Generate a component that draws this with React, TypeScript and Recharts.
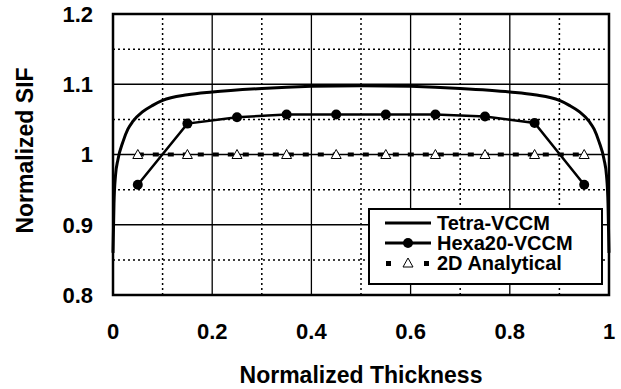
import {
  LineChart,
  Line,
  XAxis,
  YAxis,
  ReferenceLine,
  ReferenceArea,
  Legend,
} from 'recharts'

const THICKNESS_TICKS = [0, 0.2, 0.4, 0.6, 0.8, 1]
const THICKNESS_MINOR = [0.1, 0.3, 0.5, 0.7, 0.9]
const SIF_TICKS = [0.8, 0.9, 1.0, 1.1, 1.2]
const SIF_MINOR = [0.85, 0.95, 1.05, 1.15]

const tetraX = [0, 0.002, 0.005, 0.01, 0.02, 0.03, 0.04, 0.06, 0.08, 0.1, 0.15, 0.2, 0.3, 0.4, 0.5, 0.6, 0.7, 0.8, 0.85, 0.9, 0.92, 0.94, 0.96, 0.97, 0.98, 0.99, 0.995, 0.998, 1]
const tetraSif = [0.86, 0.93, 0.97, 0.993, 1.018, 1.036, 1.047, 1.061, 1.07, 1.077, 1.085, 1.089, 1.094, 1.097, 1.098, 1.097, 1.094, 1.089, 1.085, 1.077, 1.07, 1.061, 1.047, 1.036, 1.018, 0.993, 0.97, 0.93, 0.86]

const hexaX = [0.05, 0.15, 0.25, 0.35, 0.45, 0.55, 0.65, 0.75, 0.85, 0.95]
const hexaSif = [0.957, 1.044, 1.053, 1.057, 1.057, 1.057, 1.057, 1.054, 1.045, 0.957]

const analyticalX = [0.05, 0.15, 0.25, 0.35, 0.45, 0.55, 0.65, 0.75, 0.85, 0.95]
const analyticalSif = [1, 1, 1, 1, 1, 1, 1, 1, 1, 1]

const tetraData = tetraX.map((x, i) => ({ x, y: tetraSif[i] }))
const hexaData = hexaX.map((x, i) => ({ x, y: hexaSif[i] }))
const analyticalData = analyticalX.map((x, i) => ({ x, y: analyticalSif[i] }))

const FONT = '"Liberation Sans", Arial, sans-serif'

function Triangle(props: any) {
  const { cx, cy } = props
  if (cx == null || cy == null) return null
  return (
    <path
      d={`M${cx},${cy - 5} L${cx + 5},${cy + 4} L${cx - 5},${cy + 4} Z`}
      fill="#fff"
      stroke="#000"
      strokeWidth={1}
    />
  )
}

function YTitle(props: any) {
  const vb = props.viewBox
  const cy = vb.y + vb.height / 2 - 4
  return (
    <text
      x={25}
      y={cy}
      transform={`rotate(-90 25 ${cy})`}
      textAnchor="middle"
      dominantBaseline="central"
      fontFamily={FONT}
      fontWeight="bold"
      fontSize={23}
      fill="#000"
    >
      Normalized SIF
    </text>
  )
}

function XTitle(props: any) {
  const vb = props.viewBox
  return (
    <text
      x={vb.x + vb.width / 2}
      y={383}
      textAnchor="middle"
      fontFamily={FONT}
      fontWeight="bold"
      fontSize={23}
      fill="#000"
    >
      Normalized Thickness
    </text>
  )
}

function LegendBox() {
  const row = { display: 'flex', alignItems: 'center', height: 20 }
  const label = { fontFamily: FONT, fontWeight: 'bold' as const, fontSize: 20, marginLeft: 6, lineHeight: '20px' }
  return (
    <div
      style={{
        width: 216,
        height: 70,
        border: '2px solid #000',
        background: '#fff',
        boxSizing: 'content-box',
        padding: '3px 0 0 15px',
        marginLeft: -15,
      }}
    >
      <div style={row}>
        <svg width={46} height={20}>
          <line x1={0} y1={10} x2={46} y2={10} stroke="#000" strokeWidth={3} />
        </svg>
        <span style={label}>Tetra-VCCM</span>
      </div>
      <div style={row}>
        <svg width={46} height={20}>
          <line x1={0} y1={10} x2={46} y2={10} stroke="#000" strokeWidth={3} />
          <circle cx={23} cy={10} r={5} fill="#000" />
        </svg>
        <span style={label}>Hexa20-VCCM</span>
      </div>
      <div style={row}>
        <svg width={46} height={20}>
          <rect x={1} y={8} width={5} height={5} fill="#000" />
          <path d="M23,5 L28,14 L18,14 Z" fill="#fff" stroke="#000" strokeWidth={1} />
          <rect x={39} y={8} width={5} height={5} fill="#000" />
        </svg>
        <span style={label}>2D Analytical</span>
      </div>
    </div>
  )
}

export default function App() {
  return (
    <div style={{ position: 'absolute', left: 0, top: 0, background: '#fff' }}>
      <LineChart
        width={621}
        height={389}
        margin={{ top: 14, right: 12, left: 0, bottom: 0 }}
      >
        <XAxis
          type="number"
          dataKey="x"
          domain={[0, 1]}
          ticks={THICKNESS_TICKS}
          allowDuplicatedCategory={false}
          height={94}
          axisLine={false}
          tickLine={false}
          tickSize={0}
          tickMargin={28}
          tick={{ fill: '#000', fontFamily: FONT, fontWeight: 'bold', fontSize: 22 }}
          label={<XTitle />}
        />
        <YAxis
          type="number"
          domain={[0.8, 1.2]}
          ticks={SIF_TICKS}
          width={113}
          axisLine={false}
          tickLine={false}
          tickSize={0}
          tickMargin={20}
          tick={{ fill: '#000', fontFamily: FONT, fontWeight: 'bold', fontSize: 22 }}
          label={<YTitle />}
        />
        {THICKNESS_MINOR.map(v => (
          <ReferenceLine key={'xm' + v} x={v} stroke="#000" strokeWidth={1.5} strokeDasharray="2 3" />
        ))}
        {SIF_MINOR.map(v => (
          <ReferenceLine key={'ym' + v} y={v} stroke="#000" strokeWidth={1.5} strokeDasharray="2 3" />
        ))}
        {THICKNESS_TICKS.map(v => (
          <ReferenceLine key={'xM' + v} x={v} stroke="#000" strokeWidth={1.3} />
        ))}
        {SIF_TICKS.map(v => (
          <ReferenceLine key={'yM' + v} y={v} stroke="#000" strokeWidth={1.3} />
        ))}
        <Line
          data={analyticalData}
          dataKey="y"
          type="linear"
          stroke="#000"
          strokeWidth={4}
          strokeDasharray="6 9"
          dot={<Triangle />}
          activeDot={false}
          isAnimationActive={false}
        />
        <Line
          data={tetraData}
          dataKey="y"
          type="monotone"
          stroke="#000"
          strokeWidth={3}
          dot={false}
          activeDot={false}
          isAnimationActive={false}
        />
        <Line
          data={hexaData}
          dataKey="y"
          type="linear"
          stroke="#000"
          strokeWidth={2.5}
          dot={{ r: 5, fill: '#000', stroke: '#000', strokeWidth: 0 }}
          activeDot={false}
          isAnimationActive={false}
        />
        <ReferenceArea
          x1={0}
          x2={1}
          y1={0.8}
          y2={1.2}
          fill="none"
          fillOpacity={0}
          stroke="#000"
          strokeWidth={2.5}
        />
        <Legend
          layout="horizontal"
          verticalAlign="middle"
          align="center"
          content={() => <LegendBox />}
          wrapperStyle={{ left: 383, top: 208, width: 'auto' }}
        />
      </LineChart>
    </div>
  )
}
